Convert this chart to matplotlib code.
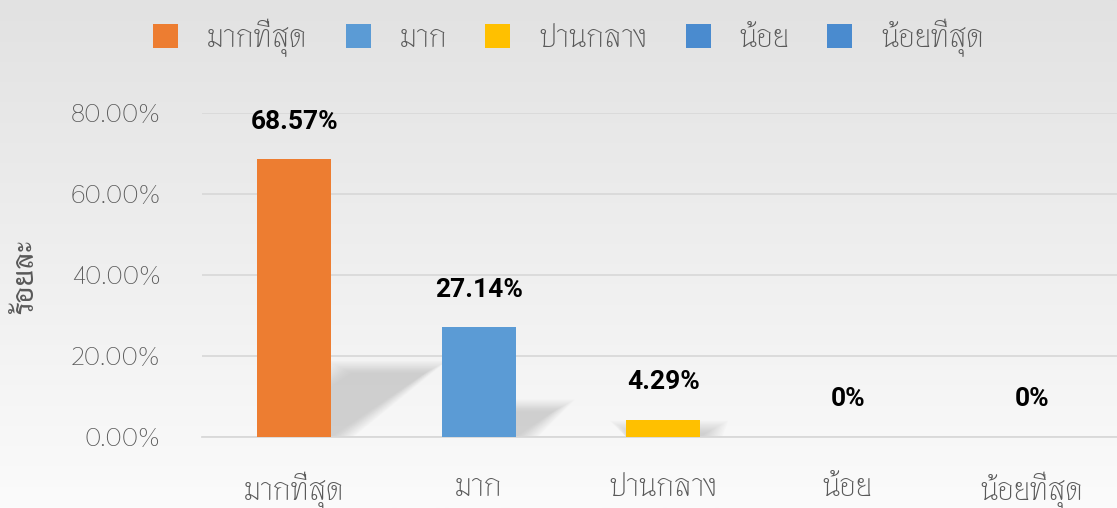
import numpy as np
import matplotlib
matplotlib.use("Agg")
import matplotlib.pyplot as plt
from matplotlib.patches import Polygon

# --- data ---
categories = ["มากที่สุด", "มาก", "ปานกลาง", "น้อย", "น้อยที่สุด"]
values = [0.6857, 0.2714, 0.0429, 0.0, 0.0]
value_labels = ["68.57%", "27.14%", "4.29%", "0%", "0%"]
yticks = [0.0, 0.2, 0.4, 0.6, 0.8]
ytick_labels = ["0.00%", "20.00%", "40.00%", "60.00%", "80.00%"]
colors = ["#ED7D31", "#5B9BD5", "#FFC000", "#4A8BCF", "#4A8BCF"]

THAI = ["Thasadith", "Noto Sans Thai", "DejaVu Sans"]
NUM = ["Roboto", "DejaVu Sans"]
GREY = "#595959"
GRID = "#d9d9d9"

fig = plt.figure(figsize=(11.17, 5.08), dpi=100)

# background gradient, grey at top fading to near white
bg = fig.add_axes([0, 0, 1, 1], zorder=-10)
grad = np.linspace(0, 1, 256).reshape(-1, 1)
bg.imshow(grad, aspect="auto", cmap=matplotlib.colors.LinearSegmentedColormap.from_list(
    "bg", ["#e2e2e2", "#fbfbfb"]), extent=(0, 1, 0, 1), origin="upper")
bg.axis("off")

ax = fig.add_axes([202 / 1117, 71 / 508, 915 / 1117, 324 / 508])
ax.set_facecolor("none")
x = np.arange(len(categories))
w = 0.4

# soft cast shadows: stacked translucent parallelograms
for xi, v in zip(x, values):
    if v <= 0:
        continue
    sx, sy = 0.74 * v, 0.23 * v
    for grow in np.linspace(0.12, 0.0, 14):
        pts = [(xi - w / 2, 0), (xi + w / 2 + grow, 0),
               (xi + w / 2 + sx + grow, sy + grow * 0.25),
               (xi - w / 2 + sx - grow, sy + grow * 0.25)]
        ax.add_patch(Polygon(pts, closed=True, facecolor="#a0a0a0",
                             edgecolor="none", alpha=0.036, zorder=1))

bars = ax.bar(x, values, w, color=colors, zorder=3)
for b, c in zip(bars, categories):
    b.set_label(c)

for xi, v, lab in zip(x, values, value_labels):
    ax.annotate(lab, (xi, v), xytext=(0, 27), textcoords="offset points",
                ha="center", va="center", fontsize=19, fontweight="bold",
                color="black", family=NUM)

ax.set_xlim(-0.5, 4.46)
ax.set_ylim(0, 0.8)
ax.set_yticks(yticks)
ax.set_yticklabels(ytick_labels, fontsize=18, color=GREY, family=THAI)
ax.set_xticks(x)
ax.set_xticklabels(categories, fontsize=23, color=GREY, family=THAI)
ax.tick_params(axis="y", length=0, pad=30)
ax.tick_params(axis="x", length=0, pad=25)
ax.yaxis.grid(True, color=GRID, linewidth=1.3, zorder=0)
ax.set_axisbelow(True)
for s in ["top", "right", "left"]:
    ax.spines[s].set_visible(False)
ax.spines["bottom"].set_color(GRID)
ax.spines["bottom"].set_linewidth(1.3)

fig.text(25 / 1117, 1 - 277 / 508, "ร้อยละ", rotation=90, ha="center", va="center",
         fontsize=22, fontweight="bold", color=GREY, family=THAI)

fig.legend(handles=list(bars), loc="center", bbox_to_anchor=(0.509, 1 - 38 / 508),
           ncol=5, frameon=False, prop={"family": THAI, "size": 23},
           labelcolor=GREY, handlelength=0.78, handleheight=0.78,
           handletextpad=0.9, columnspacing=1.2)

fig.savefig("out.png", dpi=100)
